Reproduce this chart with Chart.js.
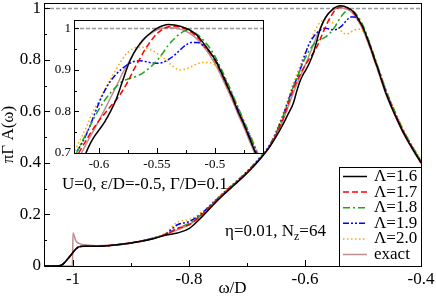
<!DOCTYPE html>
<html>
<head>
<meta charset="utf-8">
<script src="https://cdn.jsdelivr.net/npm/chart.js@4.4.1/dist/chart.umd.min.js"></script>
<style>
	html, body { margin: 0; padding: 0; background: #fff; }
	#wrap { position: relative; width: 436px; height: 299px; }
	#wrap canvas { position: absolute; left: 0; top: 0; }
</style>
</head>
<body>
<div id="wrap">
	<canvas id="main" width="436" height="299"></canvas>
	<canvas id="inset" width="436" height="299"></canvas>
</div>
<script>
// omega/D grid shared by all curves
const omega = [
	-1.05, -1.03, -1.02, -1.01, -1.001, -1.0, -0.995, -0.99, -0.98, -0.96, -0.94, -0.92, -0.9, -0.88, -0.86, -0.84,
	-0.82, -0.8, -0.78, -0.76, -0.74, -0.72, -0.7, -0.68, -0.66, -0.64, -0.63, -0.62,
	-0.615, -0.61, -0.605, -0.6, -0.595, -0.59, -0.585, -0.58, -0.575, -0.57, -0.565, -0.56, -0.555, -0.55, -0.545, -0.54,
	-0.535, -0.53, -0.525, -0.52, -0.515, -0.51, -0.505, -0.5, -0.495, -0.49, -0.485, -0.48, -0.475, -0.47, -0.465, -0.46,
	-0.45, -0.44, -0.43, -0.42, -0.41, -0.4
]
const lam16 = [
	0, 0, 0.003, 0.025, 0.05, 0.053, 0.066, 0.074, 0.077, 0.077, 0.079, 0.083, 0.089, 0.097, 0.107, 0.12,
	0.128, 0.145, 0.185, 0.233, 0.277, 0.318, 0.36, 0.408, 0.465, 0.54, 0.585, 0.632,
	0.672, 0.708, 0.735, 0.755, 0.775, 0.8, 0.83, 0.87, 0.91, 0.94, 0.962, 0.978, 0.99, 1.0, 1.006, 1.009,
	1.008, 1.005, 1.0, 0.993, 0.982, 0.965, 0.946, 0.925, 0.897, 0.866, 0.835, 0.8, 0.77, 0.735, 0.7, 0.668,
	0.612, 0.562, 0.515, 0.475, 0.437, 0.4
]
const lam17 = [
	0, 0, 0.003, 0.025, 0.05, 0.053, 0.066, 0.074, 0.077, 0.077, 0.079, 0.083, 0.089, 0.097, 0.108, 0.122,
	0.145, 0.16, 0.195, 0.24, 0.282, 0.322, 0.363, 0.41, 0.468, 0.558, 0.62, 0.686,
	0.712, 0.735, 0.758, 0.778, 0.795, 0.812, 0.828, 0.848, 0.872, 0.9, 0.925, 0.95, 0.97, 0.987, 0.998, 1.004,
	1.005, 1.003, 0.998, 0.99, 0.978, 0.962, 0.944, 0.922, 0.895, 0.864, 0.833, 0.8, 0.768, 0.735, 0.702, 0.67,
	0.615, 0.565, 0.518, 0.477, 0.44, 0.402
]
const lam18 = [
	0, 0, 0.003, 0.025, 0.05, 0.053, 0.066, 0.074, 0.077, 0.077, 0.079, 0.083, 0.089, 0.097, 0.108, 0.123,
	0.147, 0.165, 0.197, 0.24, 0.283, 0.323, 0.365, 0.412, 0.47, 0.568, 0.63, 0.696,
	0.725, 0.752, 0.78, 0.805, 0.827, 0.845, 0.86, 0.872, 0.878, 0.882, 0.888, 0.897, 0.908, 0.922, 0.94, 0.96,
	0.975, 0.987, 0.995, 0.992, 0.985, 0.972, 0.955, 0.933, 0.905, 0.875, 0.843, 0.81, 0.777, 0.745, 0.712, 0.68,
	0.625, 0.573, 0.525, 0.483, 0.445, 0.407
]
const lam19 = [
	0, 0, 0.003, 0.025, 0.05, 0.053, 0.066, 0.074, 0.077, 0.077, 0.079, 0.083, 0.089, 0.098, 0.109, 0.124,
	0.16, 0.172, 0.2, 0.242, 0.284, 0.324, 0.366, 0.414, 0.472, 0.57, 0.633, 0.698,
	0.722, 0.75, 0.785, 0.82, 0.85, 0.873, 0.89, 0.903, 0.913, 0.92, 0.922, 0.92, 0.917, 0.916, 0.918, 0.925,
	0.935, 0.948, 0.96, 0.966, 0.966, 0.958, 0.945, 0.927, 0.9, 0.87, 0.838, 0.805, 0.772, 0.74, 0.707, 0.675,
	0.62, 0.568, 0.52, 0.48, 0.442, 0.405
]
const lam20 = [
	0, 0, 0.003, 0.025, 0.05, 0.053, 0.066, 0.074, 0.077, 0.077, 0.079, 0.083, 0.09, 0.099, 0.111, 0.128,
	0.17, 0.18, 0.205, 0.245, 0.286, 0.327, 0.368, 0.416, 0.476, 0.578, 0.643, 0.71,
	0.738, 0.768, 0.8, 0.826, 0.852, 0.877, 0.902, 0.925, 0.942, 0.952, 0.955, 0.953, 0.948, 0.94, 0.93, 0.918,
	0.906, 0.9, 0.902, 0.908, 0.915, 0.918, 0.918, 0.912, 0.897, 0.872, 0.842, 0.81, 0.778, 0.746, 0.714, 0.682,
	0.627, 0.575, 0.527, 0.485, 0.447, 0.41
]
const exact = [
	0, 0, 0, 0, 0, 0.128, 0.097, 0.088, 0.082, 0.079, 0.08, 0.084, 0.09, 0.098, 0.108, 0.122,
	0.14, 0.16, 0.19, 0.235, 0.279, 0.32, 0.362, 0.408, 0.466, 0.553, 0.612, 0.672,
	0.7, 0.727, 0.752, 0.778, 0.805, 0.833, 0.86, 0.89, 0.915, 0.94, 0.96, 0.977, 0.988, 0.996, 1.0, 1.002,
	1.001, 0.998, 0.993, 0.985, 0.973, 0.957, 0.938, 0.915, 0.888, 0.858, 0.827, 0.793, 0.762, 0.728, 0.695, 0.662,
	0.61, 0.56, 0.513, 0.473, 0.435, 0.398
]

const seriesLabels = ["Λ=1.6", "Λ=1.7", "Λ=1.8", "Λ=1.9", "Λ=2.0", "exact"]

const mainXTicks = [-1, -0.8, -0.6, -0.4]
const mainXLabels = ["-1", "-0.8", "-0.6", "-0.4"]
const mainXMinor = [-0.9, -0.7, -0.5]
const mainYTicks = [0, 0.2, 0.4, 0.6, 0.8, 1]
const mainYLabels = ["0", "0.2", "0.4", "0.6", "0.8", "1"]
const mainYMinor = [0.1, 0.3, 0.5, 0.7, 0.9]

const insetXTicks = [-0.6, -0.55, -0.5]
const insetXLabels = ["-0.6", "-0.55", "-0.5"]
const insetXMinor = [-0.575, -0.525, -0.475]
const insetYTicks = [0.7, 0.8, 0.9, 1]
const insetYLabels = ["0.7", "0.8", "0.9", "1"]
const insetYMinor = [0.75, 0.85, 0.95]

const colors = ["#000000", "#ff0000", "#1fa31f", "#0000ff", "#ffa500", "#bc8f8f"]
const dashes = [[], [6, 3], [7, 3, 2, 3], [6, 2, 2, 2, 2, 2], [1.5, 2.5], []]

const serif = "'Liberation Serif', 'Times New Roman', serif"
Chart.defaults.font.family = serif
Chart.defaults.color = "#000"

const series = [lam16, lam17, lam18, lam19, lam20, exact]

const makeDatasets = () => series.map((ys, i) => ({
	label: seriesLabels[i],
	data: omega.map((x, j) => ({x: x, y: ys[j]})),
	borderColor: colors[i],
	borderDash: dashes[i],
	borderWidth: 1.5,
	pointRadius: 0,
	cubicInterpolationMode: 'monotone',
	fill: false
}))

const frame = (cfg) => ({
	id: 'frame',
	beforeDatasetsDraw(chart) {
		const {ctx, chartArea: a, scales: {x, y}} = chart
		ctx.save()
		if (cfg.fill) {
			ctx.fillStyle = "#fff"
			ctx.fillRect(a.left, a.top, a.right - a.left, a.bottom - a.top)
		}
		const py = Math.round(y.getPixelForValue(1)) + 0.5
		ctx.strokeStyle = "#999"
		ctx.lineWidth = 1.5
		ctx.setLineDash([4, 2])
		ctx.beginPath()
		ctx.moveTo(a.left, py)
		ctx.lineTo(a.right, py)
		ctx.stroke()
		ctx.restore()
	},
	afterDatasetsDraw(chart) {
		const {ctx, chartArea: a, scales: {x, y}} = chart
		ctx.save()
		ctx.strokeStyle = "#000"
		ctx.lineWidth = 1
		ctx.beginPath()
		const tick = (vals, len) => {
			vals.forEach(v => {
				const px = Math.round(x.getPixelForValue(v)) + 0.5
				ctx.moveTo(px, a.bottom)
				ctx.lineTo(px, a.bottom - len)
			})
		}
		const ytick = (vals, len) => {
			vals.forEach(v => {
				const py = Math.round(y.getPixelForValue(v)) + 0.5
				ctx.moveTo(a.left, py)
				ctx.lineTo(a.left + len, py)
			})
		}
		tick(cfg.xMajor, cfg.major)
		tick(cfg.xMinor, cfg.minor)
		ytick(cfg.yMajor, cfg.major)
		ytick(cfg.yMinor, cfg.minor)
		ctx.stroke()
		ctx.strokeRect(Math.round(a.left) + 0.5, Math.round(a.top) + 0.5, Math.round(a.right - a.left), Math.round(a.bottom - a.top))
		ctx.restore()
	}
})

const notes = {
	id: 'notes',
	afterDraw(chart) {
		const {ctx, chartArea: a} = chart
		ctx.save()
		ctx.fillStyle = "#000"
		ctx.font = "17px " + serif
		ctx.textBaseline = "middle"
		ctx.fillText("U=0, ε/D=-0.5, Γ/D=0.1", 62, 185)
		let tx = 225
		ctx.fillText("η=0.01, N", tx, 232)
		tx += ctx.measureText("η=0.01, N").width
		ctx.font = "12px " + serif
		ctx.fillText("z", tx, 237)
		tx += ctx.measureText("z").width
		ctx.font = "17px " + serif
		ctx.fillText("=64", tx, 232)

		// legend box in the lower right corner
		const w = 82, h = 99
		const left = a.right - w, top = a.bottom - h
		ctx.fillStyle = "#fff"
		ctx.fillRect(left, top, w, h)
		ctx.strokeStyle = "#000"
		ctx.lineWidth = 1
		ctx.strokeRect(Math.round(left) + 0.5, Math.round(top) + 0.5, w, h)
		chart.data.datasets.forEach((ds, i) => {
			const yy = top + 9.5 + i * 15.6
			ctx.strokeStyle = ds.borderColor
			ctx.lineWidth = 1.5
			ctx.setLineDash(ds.borderDash)
			ctx.beginPath()
			ctx.moveTo(left + 4, yy)
			ctx.lineTo(left + 28, yy)
			ctx.stroke()
			ctx.setLineDash([])
			ctx.fillStyle = "#000"
			ctx.font = "17px " + serif
			ctx.fillText(ds.label, left + 35, yy)
		})
		ctx.restore()
	}
}

const axisX = (min, max, ticks, labels, size, height, pad) => ({
	type: 'linear',
	min: min,
	max: max,
	afterBuildTicks: (s) => { s.ticks = ticks.map(v => ({value: v})) },
	afterFit: (s) => { s.height = height; s.paddingLeft = 0; s.paddingRight = 0 },
	grid: {display: false, drawTicks: false},
	border: {display: false},
	ticks: {
		font: {size: size},
		padding: pad,
		maxRotation: 0,
		autoSkip: false,
		callback: (v, i) => labels[i]
	}
})

const axisY = (min, max, ticks, labels, size, width, pad) => ({
	type: 'linear',
	min: min,
	max: max,
	afterBuildTicks: (s) => { s.ticks = ticks.map(v => ({value: v})) },
	afterFit: (s) => { s.width = width; s.paddingTop = 0; s.paddingBottom = 0 },
	grid: {display: false, drawTicks: false},
	border: {display: false},
	ticks: {
		font: {size: size},
		padding: pad,
		autoSkip: false,
		callback: (v, i) => labels[i]
	}
})

const base = {
	animation: false,
	responsive: false,
	events: [],
	plugins: {legend: {display: false}, tooltip: {enabled: false}}
}

const mainX = axisX(-1.05, -0.4, mainXTicks, mainXLabels, 17, 33, 3)
mainX.title = {display: true, text: "ω/D", font: {size: 17}, padding: {top: 0, bottom: 0}}
const mainY = axisY(0, 1.02, mainYTicks, mainYLabels, 17, 44, 3)
mainY.title = {display: true, text: "πΓ A(ω)", font: {size: 17}, padding: {top: -2, bottom: 0}}

new Chart(document.getElementById("main"), {
	type: 'line',
	data: {datasets: makeDatasets()},
	options: Object.assign({}, base, {
		layout: {padding: {left: 0, right: 15, top: 3, bottom: 0}},
		scales: {x: mainX, y: mainY}
	}),
	plugins: [
		frame({xMajor: mainXTicks, xMinor: mainXMinor, yMajor: mainYTicks, yMinor: mainYMinor, major: 6, minor: 3, fill: false}),
		notes
	]
})

new Chart(document.getElementById("inset"), {
	type: 'line',
	data: {datasets: makeDatasets()},
	options: Object.assign({}, base, {
		layout: {padding: {left: 44, right: 173, top: 20, bottom: 126}},
		scales: {
			x: axisX(-0.6215, -0.4585, insetXTicks, insetXLabels, 13, 20, 4),
			y: axisY(0.7, 1.02, insetYTicks, insetYLabels, 13, 30, 3)
		}
	}),
	plugins: [
		frame({xMajor: insetXTicks, xMinor: insetXMinor, yMajor: insetYTicks, yMinor: insetYMinor, major: 5, minor: 3, fill: true})
	]
})
</script>
</body>
</html>
